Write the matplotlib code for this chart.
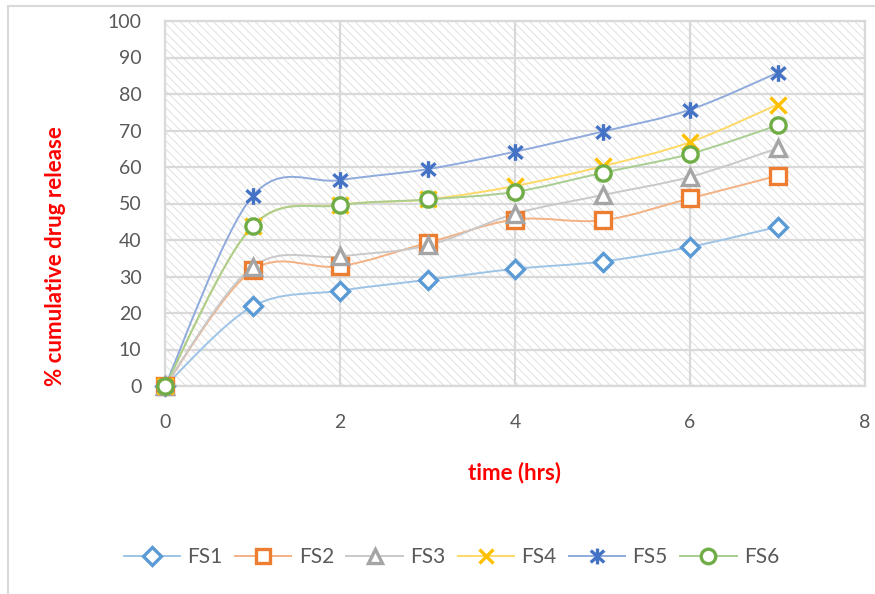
import matplotlib.pyplot as plt
import numpy as np
from matplotlib.path import Path
from matplotlib.patches import PathPatch
from matplotlib.colors import to_rgb

# release data (% cumulative drug release vs time in hours)
time_hrs = [0, 1, 2, 3, 4, 5, 6, 7]
fs1 = [0, 21.8, 26.1, 29.1, 32.1, 34.1, 38.1, 43.6]
fs2 = [0, 31.7, 32.8, 39.2, 45.6, 45.4, 51.4, 57.6]
fs3 = [0, 32.6, 35.5, 38.5, 47.2, 52.3, 57.3, 65.1]
fs4 = [0, 43.8, 49.6, 51.1, 54.8, 60.2, 66.8, 77.1]
fs5 = [0, 52.0, 56.4, 59.4, 64.2, 69.7, 75.7, 85.8]
fs6 = [0, 43.8, 49.5, 51.1, 53.2, 58.4, 63.6, 71.4]

names = ["FS1", "FS2", "FS3", "FS4", "FS5", "FS6"]
series = [fs1, fs2, fs3, fs4, fs5, fs6]
colors = ["#5B9BD5", "#ED7D31", "#A5A5A5", "#FFC000", "#4472C4", "#70AD47"]

# six-armed star used for FS5
star = Path([(0, -1), (0, 1), (-0.85, -0.75), (0.85, 0.75), (-0.85, 0.75), (0.85, -0.75)],
            [Path.MOVETO, Path.LINETO, Path.MOVETO, Path.LINETO, Path.MOVETO, Path.LINETO])
markers = ["D", "s", "^", "x", star, "o"]
msizes = [9.5, 11, 11, 11, 12, 11]

plt.rcParams['font.family'] = ['Lato', 'DejaVu Sans']
plt.rcParams['hatch.linewidth'] = 0.6


def lighten(c, amount=0.4):
    r, g, b = to_rgb(c)
    return (r + (1 - r) * amount, g + (1 - g) * amount, b + (1 - b) * amount)


def smooth_path(xs, ys):
    # cubic bezier through the points, like a spreadsheet "smoothed line"
    pts = np.column_stack([xs, ys]).astype(float)
    n = len(pts)
    verts = [pts[0]]
    codes = [Path.MOVETO]
    for i in range(n - 1):
        p0 = pts[i - 1] if i > 0 else pts[i]
        p1 = pts[i]
        p2 = pts[i + 1]
        p3 = pts[i + 2] if i + 2 < n else pts[i + 1]
        c1 = p1 + (p2 - p0) / 6.0
        c2 = p2 - (p3 - p1) / 6.0
        verts += [c1, c2, p2]
        codes += [Path.CURVE4] * 3
    return Path(verts, codes)


fig = plt.figure(figsize=(8.75, 5.94), dpi=100)
ax = fig.add_axes([165 / 875, 1 - 386 / 594, 700 / 875, 365 / 594])

# outer frame of the chart
frame = plt.Rectangle((8 / 875, -0.1), 1.2, 1 - 6 / 594 + 0.1, transform=fig.transFigure,
                      fill=False, edgecolor="#d9d9d9", linewidth=1.5, zorder=0)
fig.patches.append(frame)

ax.patch.set_facecolor("white")
ax.patch.set_hatch("\\\\\\\\")
ax.patch.set_edgecolor("#dcdcdc")

handles = []
for name, ys, col, mk, ms in zip(names, series, colors, markers, msizes):
    lc = lighten(col)
    ax.add_patch(PathPatch(smooth_path(time_hrs, ys), fill=False, edgecolor=lc,
                           linewidth=1.4, zorder=3))
    face = "none" if (mk == "x" or mk is star) else "white"
    ax.plot(time_hrs, ys, linestyle="none", marker=mk, markersize=ms,
            markerfacecolor=face, markeredgecolor=col, markeredgewidth=2.4,
            clip_on=False, zorder=4)
    # legend proxy: light line, solid marker
    h, = ax.plot([], [], color=lc, linewidth=1.4, marker=mk, markersize=ms * 0.95,
                 markerfacecolor=face, markeredgecolor=col, markeredgewidth=2.4, label=name)
    handles.append(h)

ax.set_xlim(0, 8)
ax.set_ylim(0, 100)
ax.set_xticks(np.arange(0, 9, 2))
ax.set_yticks(np.arange(0, 101, 10))
ax.grid(True, color="#d9d9d9", linewidth=1.6, zorder=1)
ax.set_axisbelow(True)
for sp in ax.spines.values():
    sp.set_color("#d9d9d9")
    sp.set_linewidth(1.6)
ax.tick_params(length=0, labelsize=14, labelcolor="#595959")
ax.tick_params(axis="x", pad=20)
ax.tick_params(axis="y", pad=17)

fig.text(515 / 875, 1 - 473 / 594, "time (hrs)", color="red", fontweight="bold",
         fontsize=16, ha="center", va="center")
fig.text(56 / 875, 1 - 256 / 594, "% cumulative drug release", color="red", fontweight="bold",
         fontsize=16, rotation=90, ha="center", va="center")

fig.legend(handles, names, loc="center", bbox_to_anchor=(0.516, 0.062), ncol=6,
           frameon=False, fontsize=15, handlelength=2.7, columnspacing=0.6,
           handletextpad=0.35, labelcolor="#595959")

fig.savefig("out.png", dpi=100)
